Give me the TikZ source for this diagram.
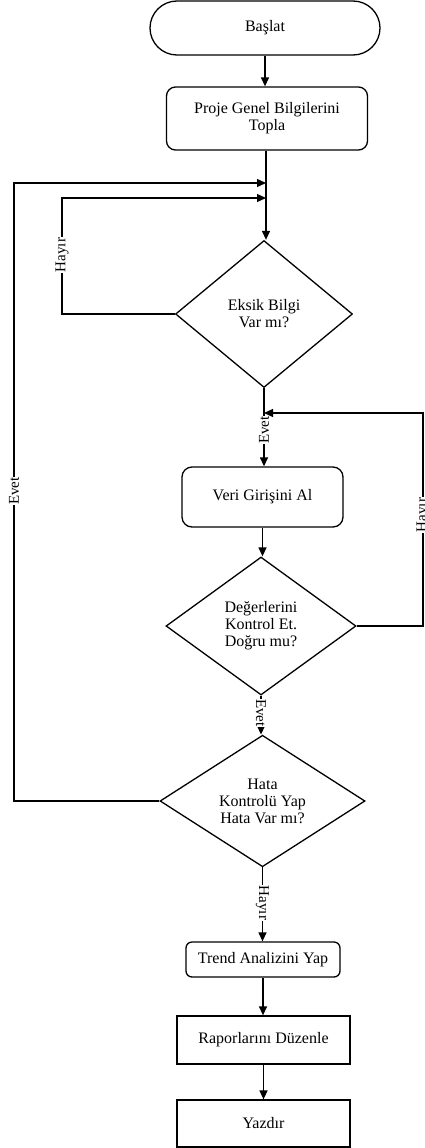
\documentclass[tikz,border=0pt]{standalone}
\usepackage{fontspec}
\setmainfont{Liberation Serif}
\usetikzlibrary{shapes.geometric,arrows.meta}
\begin{document}
\begin{tikzpicture}[x=1pt,y=-1pt,
  every node/.style={font=\fontsize{16}{17}\selectfont, align=center},
  base/.style={draw, line width=1.3pt, inner sep=2pt},
  term/.style={base, rectangle, rounded corners=27pt, minimum width=230pt, minimum height=54pt},
  proc/.style={base, rectangle, rounded corners=9pt},
  plain/.style={base, rectangle},
  dec/.style={base, diamond, inner sep=0pt},
  conn/.style={line width=1.3pt, -{Triangle[length=9pt,width=8pt]}},
  lbl/.style={fill=white, inner sep=0.5pt, font=\fontsize{15}{16}\selectfont}
]
\useasboundingbox (0,0) rectangle (424,1148);

\node[term] (start) at (265,28) {Başlat};
\node[proc, minimum width=201pt, minimum height=63pt] (proje) at (267,118.5) {Proje Genel Bilgilerini\\Topla};
\node[dec, minimum width=177pt, minimum height=147pt] (d1) at (264,314) {Eksik Bilgi\\Var mı?};
\node[proc, minimum width=161pt, minimum height=60pt, rounded corners=10pt] (veri) at (262.5,497) {Veri Girişini Al};
\node[dec, minimum width=190pt, minimum height=138pt] (d2) at (261,626) {Değerlerini\\Kontrol Et.\\Doğru mu?};
\node[dec, minimum width=205pt, minimum height=128pt] (d3) at (262.5,801) {Hata\\Kontrolü Yap\\Hata Var mı?};
\node[proc, minimum width=154pt, minimum height=35pt, rounded corners=6pt] (trend) at (263,959.5) {Trend Analizini Yap};
\node[plain, minimum width=173pt, minimum height=48pt] (rapor) at (263.5,1040) {Raporlarını Düzenle};
\node[plain, minimum width=173pt, minimum height=47pt] (yazdir) at (263.5,1123.5) {Yazdır};

\coordinate (m1) at (266,183);
\coordinate (m2) at (266,198);
\coordinate (c1) at (14,183);
\coordinate (c2) at (62,198);
\coordinate (m3) at (264,413);
\coordinate (c3) at (423,413);

\draw[conn] (start.south) -- (start.south |- proje.north);
\draw[conn] (proje.south -| m1) -- (m1 |- d1.north);
\draw[conn] (d1.west) -| (c2) -- (m2);
\draw[conn] (d3.west) -| (c1) -- (m1);
\draw[conn] (d1.south) -- (d1.south |- veri.north);
\draw[conn] (d2.east) -| (c3) -- (m3);
\draw[conn] (veri.south) -- (veri.south |- d2.north);
\draw[conn] (d2.south) -- (d2.south |- d3.north);
\draw[conn] (d3.south) -- (d3.south |- trend.north);
\draw[conn] (trend.south) -- (trend.south |- rapor.north);
\draw[conn] (rapor.south) -- (rapor.south |- yazdir.north);

\node[lbl, rotate=90] (l1) at (62,255) {Hayır};
\node[lbl, rotate=90] (l2) at (14,491) {Evet};
\node[lbl, rotate=90] (l3) at (264,430) {Evet};
\node[lbl, rotate=90] (l4) at (423,515) {Hayır};
\node[lbl, rotate=-90] (l5) at (261,713) {Evet};
\node[lbl, rotate=-90] (l6) at (262.5,903) {Hayır};
\end{tikzpicture}
\end{document}
